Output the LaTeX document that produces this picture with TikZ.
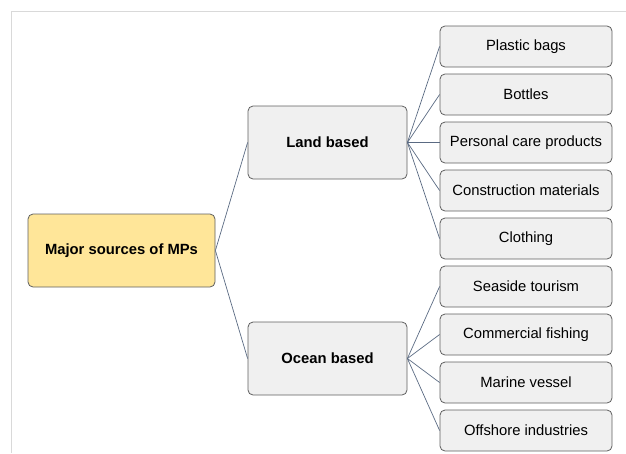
\documentclass[tikz,border=0pt]{standalone}
\usepackage{fontspec}
\setmainfont{Liberation Sans}
\definecolor{rootfill}{HTML}{FFE699}
\definecolor{boxfill}{HTML}{F0F0F0}
\definecolor{boxline}{HTML}{5F5F5F}
\definecolor{linkline}{HTML}{5A6A82}
\definecolor{framegray}{HTML}{D9D9D9}
\begin{document}
\begin{tikzpicture}[x=1pt,y=-1pt,
  box/.style={draw=boxline, line width=0.8pt, rounded corners=5pt, fill=boxfill,
    inner sep=0pt, font=\fontsize{14.8}{17}\selectfont},
  rootbox/.style={box, fill=rootfill, minimum width=187pt, minimum height=73pt, font=\fontsize{14.8}{17}\selectfont\bfseries},
  midbox/.style={box, minimum width=159pt, minimum height=73pt, font=\fontsize{14.8}{17}\selectfont\bfseries},
  leafbox/.style={box, minimum width=172pt, minimum height=41pt},
  link/.style={draw=linkline, line width=0.7pt}]
  \useasboundingbox (0,0) rectangle (626,453);
  % light frame along the top and left edges
  \draw[framegray, line width=1pt] (11,453) -- (11,11) -- (626,11);

  \node[rootbox] (root) at (121.5,250.5) {Major sources of MPs};
  \node[midbox] (land) at (327.5,142.5) {Land based};
  \node[midbox] (ocean) at (327.5,358.5) {Ocean based};

  \node[leafbox] (l1) at (526,46.5) {Plastic bags};
  \node[leafbox] (l2) at (526,94.5) {Bottles};
  \node[leafbox] (l3) at (526,142.5) {Personal care products};
  \node[leafbox] (l4) at (526,190.5) {Construction materials};
  \node[leafbox] (l5) at (526,238.5) {Clothing};
  \node[leafbox] (o1) at (526,286.5) {Seaside tourism};
  \node[leafbox] (o2) at (526,334.5) {Commercial fishing};
  \node[leafbox] (o3) at (526,382.5) {Marine vessel};
  \node[leafbox] (o4) at (526,430.5) {Offshore industries};

  \draw[link] (root.east) -- (land.west);
  \draw[link] (root.east) -- (ocean.west);
  \foreach \n in {l1,l2,l3,l4,l5} \draw[link] (land.east) -- (\n.west);
  \foreach \n in {o1,o2,o3,o4} \draw[link] (ocean.east) -- (\n.west);
\end{tikzpicture}
\end{document}
